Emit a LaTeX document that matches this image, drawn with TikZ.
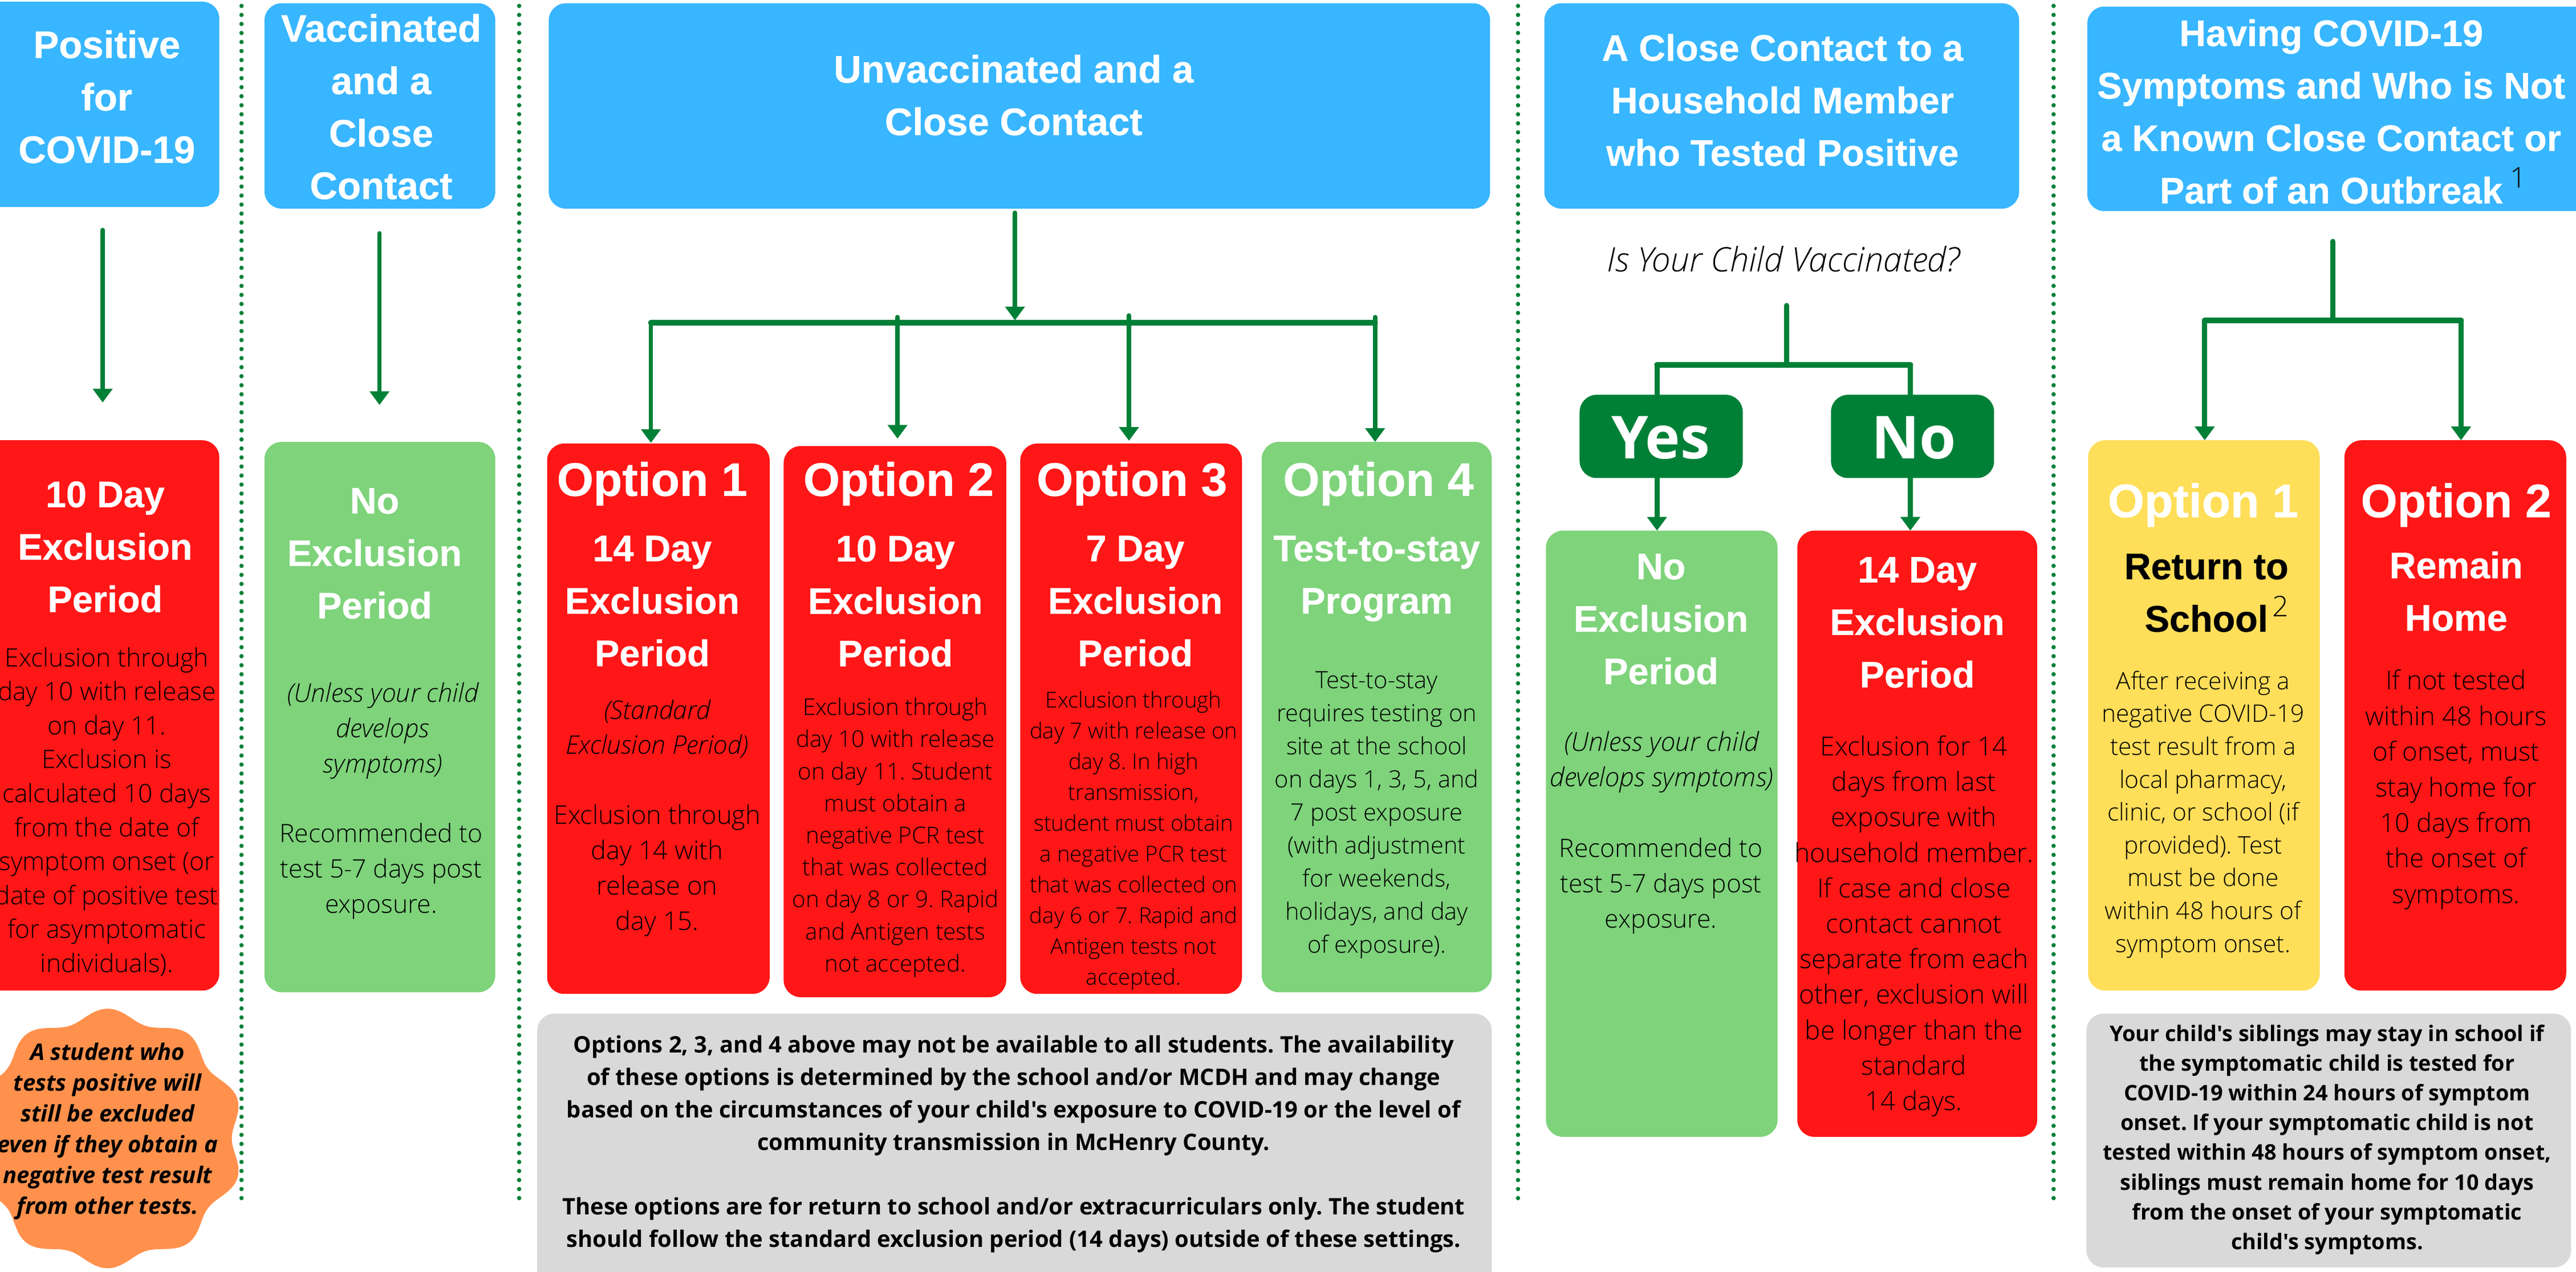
\documentclass[tikz,border=0pt]{standalone}
\usepackage{fontspec}
\newfontfamily\os{Open Sans}
\newfontfamily\lightfont{Open Sans Light}[ItalicFont={Open Sans Light Italic}]
\newfontfamily\headfont{Liberation Sans}[BoldFeatures={FakeBold=0.5}]
\usetikzlibrary{arrows.meta}
\definecolor{cblue}{HTML}{38B6FF}
\definecolor{cred}{HTML}{FF1616}
\definecolor{cgreen}{HTML}{7ED37B}
\definecolor{cdark}{HTML}{008037}
\definecolor{cyellow}{HTML}{FFDE59}
\definecolor{cgrey}{HTML}{D9D9D9}
\definecolor{corange}{HTML}{FF914D}
\newcommand{\bx}[6]{\node[panel,fill=#2,minimum width={(#5-#3)*0.7203pt},minimum height={(#6-#4)*0.7203pt}] (#1) at ({(#3+#5)/2},{(#4+#6)/2}) {};}
\tikzset{
  panel/.style={rounded corners=7.5pt,inner sep=0pt,outer sep=0pt,draw=none},
  txt/.style={inner sep=0pt,outer sep=0pt,align=center,execute at begin node=\frenchspacing\strut,execute at end node=\strut},
  head/.style={txt,yshift=-3.3pt,text=white,font={\fontsize{16.2}{23}\selectfont\headfont\bfseries}},
  headb/.style={head,font={\fontsize{16.8}{23}\selectfont\headfont\bfseries}},
  headk/.style={head,text=black},
  opt/.style={txt,yshift=-3pt,text=white,font={\fontsize{20.6}{24}\selectfont\headfont\bfseries}},
  yn/.style={txt,yshift=-3.2pt,text=white,font={\fontsize{26}{30}\selectfont\os\bfseries}},
  body/.style 2 args={txt,yshift=-2.2pt,text=black,font={\fontsize{#1}{#2}\selectfont\lightfont}},
  ibody/.style 2 args={txt,yshift=-2.2pt,text=black,font={\fontsize{#1}{#2}\selectfont\lightfont\itshape}},
  note/.style 2 args={txt,yshift=-2.4pt,text=black,font={\fontsize{#1}{#2}\selectfont\os\bfseries}},
  inote/.style 2 args={txt,yshift=-2pt,text=black,font={\fontsize{#1}{#2}\selectfont\os\bfseries\itshape}},
  sup/.style={inner sep=0pt,text=black,font={\fontsize{12.5}{14}\selectfont\lightfont}},
  sep/.style={draw=cdark,line width=1.9pt,line cap=round,dash pattern=on 0pt off 3.96pt},
  bar/.style={draw=cdark,line width=2.5pt,line cap=round},
  trunk/.style={draw=cdark,line width=2.3pt,line cap=round},
  arr/.style={trunk,-{Triangle[width=8.4pt,length=6pt]}},
  arrt/.style={arr,line width=1.9pt},
}
\begin{document}
\begin{tikzpicture}[x=0.7203pt,y=-0.7203pt]
\useasboundingbox (0,0) rectangle (1568,774);
\fill[white] (0,0) rectangle (1568,774);
% separators
\foreach \n/\xx in {1/147,2/316,3/924,4/1250}{
  \coordinate (st\n) at (\xx,3.6);
  \coordinate (se\n) at (\xx,734);
  \draw[sep] (st\n) -- (se\n);
}
% blue headers
\bx{b1}{cblue}{-25}{1}{133.5}{126}
\bx{b2}{cblue}{161}{2}{301.5}{127}
\bx{b3}{cblue}{334}{2}{907}{127}
\bx{b4}{cblue}{940}{2}{1229}{127}
\bx{b5}{cblue}{1270.5}{4}{1590}{128.5}
\node[headb] (tb1) at (65,59) {Positive\\for\\COVID-19};
\node[headb] (tb2) at (232,65) {Vaccinated\\and a\\Close\\Contact};
\node[headb] (tb3) at (617,58) {Unvaccinated and a\\Close Contact};
\node[head] (tb4) at (1085,61) {A Close Contact to a\\Household Member\\who Tested Positive};
\node[head] (tb5) at (1419,68) {Having COVID-19\\Symptoms and Who is Not\\a Known Close Contact or\\Part of an Outbreak};
\node[sup] (s1) at (1533,108) {1};
% column 1
\bx{r1}{cred}{-25}{268}{133.5}{603}
\node[head] (tr1) at (64,333) {10 Day\\Exclusion\\Period};
\node[body={11.1}{14.9}] (br1) at (65,493) {Exclusion through\\day 10 with release\\on day 11.\\Exclusion is\\calculated 10 days\\from the date of\\symptom onset (or\\date of positive test\\for asymptomatic\\individuals).};
\fill[corange] plot[domain=0:360,samples=240,smooth] ({65.5+1.05*(75.5+3.5*cos(10*(\x-90)))*cos(\x)},{693-(75.5+3.5*cos(10*(\x-90)))*sin(\x)}) -- cycle;
\node[inote={10}{13.5}] (nb) at (65.5,687) {A student who\\tests positive will\\still be excluded\\even if they obtain a\\negative test result\\from other tests.};
% column 2
\bx{g2}{cgreen}{161}{269}{301.5}{604}
\node[head] (tg2) at (228,337) {No\\Exclusion\\Period};
\node[ibody={11.3}{15.5}] (ig2) at (233,443) {(Unless your child\\develops\\symptoms)};
\node[body={11.1}{15.5}] (bg2) at (232,528.5) {Recommended to\\test 5-7 days post\\exposure.};
\coordinate (a1s) at (62.5,140);
\coordinate (a1e) at (62.5,245);
\draw[arrt] (a1s) -- (a1e);
\coordinate (a2s) at (231,142);
\coordinate (a2e) at (231,246.5);
\draw[arrt] (a2s) -- (a2e);
% column 3
\bx{o1}{cred}{333}{270}{468.5}{605}
\bx{o2}{cred}{477}{271.5}{612.5}{607}
\bx{o3}{cred}{621}{270}{756}{605}
\bx{o4}{cgreen}{768}{269}{908}{604}
\node[opt] (to1) at (397,291) {Option 1};
\node[opt] (to2) at (547,291) {Option 2};
\node[opt] (to3) at (689,291) {Option 3};
\node[opt] (to4) at (839,291) {Option 4};
\node[head] (ho1) at (397,366) {14 Day\\Exclusion\\Period};
\node[head] (ho2) at (545,366) {10 Day\\Exclusion\\Period};
\node[head] (ho3) at (691,366) {7 Day\\Exclusion\\Period};
\node[head] (ho4) at (838,350) {Test-to-stay\\Program};
\node[ibody={11.2}{15.2}] (io1) at (400,442.5) {(Standard\\Exclusion Period)};
\node[body={11.3}{15.5}] (bo1) at (400,528) {Exclusion through\\day 14 with\\release on\\day 15.};
\node[body={10.1}{14.05}] (bo2) at (545,508) {Exclusion through\\day 10 with release\\on day 11. Student\\must obtain a\\negative PCR test\\that was collected\\on day 8 or 9. Rapid\\and Antigen tests\\not accepted.};
\node[body={9.6}{13.5}] (bo3) at (690,510) {Exclusion through\\day 7 with release on\\day 8. In high\\transmission,\\student must obtain\\a negative PCR test\\that was collected on\\day 6 or 7. Rapid and\\Antigen tests not\\accepted.};
\node[body={10.4}{14.5}] (bo4) at (838,494.5) {Test-to-stay\\requires testing on\\site at the school\\on days 1, 3, 5, and\\7 post exposure\\(with adjustment\\for weekends,\\holidays, and day\\of exposure).};
\bx{g3}{cgrey}{327}{617}{908}{790}
\node[note={9.98}{14.2}] (ng3) at (617,694.5) {Options 2, 3, and 4 above may not be available to all students. The availability\\of these options is determined by the school and/or MCDH and may change\\based on the circumstances of your child's exposure to COVID-19 or the level of\\community transmission in McHenry County.\\[14.2pt]These options are for return to school and/or extracurriculars only. The student\\should follow the standard exclusion period (14 days) outside of these settings.};
\coordinate (s3) at (617.8,129.5);
\coordinate (j3) at (617.8,195);
\coordinate (j3l) at (396.2,196.5);
\coordinate (j3r) at (837,196.5);
\coordinate (t3a) at (396.2,196.5);
\coordinate (t3b) at (546.3,193);
\coordinate (t3c) at (687.2,192);
\coordinate (t3d) at (837,193);
\coordinate (e3a) at (396.2,269.6);
\coordinate (e3b) at (546.3,267);
\coordinate (e3c) at (687.2,268.3);
\coordinate (e3d) at (837,269);
\draw[arrt] (s3) -- (j3);
\draw[bar] (j3l) -- (j3r);
\draw[arrt] (t3a) -- (e3a);
\draw[arrt] (t3b) -- (e3b);
\draw[arrt] (t3c) -- (e3c);
\draw[arrt] (t3d) -- (e3d);
% column 4
\node[txt,yshift=-1.4pt,text=black,font={\fontsize{14.8}{16}\selectfont\lightfont\itshape}] (q4) at (1085.5,159) {Is Your Child Vaccinated?};
\bx{g4}{cgreen}{941}{323}{1082}{692}
\bx{r4}{cred}{1094}{323}{1240}{692}
\node[head] (hg4) at (1011,377) {No\\Exclusion\\Period};
\node[head] (hr4) at (1167,379) {14 Day\\Exclusion\\Period};
\node[ibody={11.5}{15.5}] (ig4) at (1011.5,462) {(Unless your child\\develops symptoms)};
\node[body={11.1}{15.5}] (bg4) at (1011,537.5) {Recommended to\\test 5-7 days post\\exposure.};
\node[body={11.5}{15.55}] (br4) at (1165,562) {Exclusion for 14\\days from last\\exposure with\\household member.\\If case and close\\contact cannot\\separate from each\\other, exclusion will\\be longer than the\\standard\\14 days.};
\coordinate (s4) at (1087.5,186);
\coordinate (j4) at (1087.5,222);
\coordinate (j4a) at (1008.6,222);
\coordinate (j4b) at (1162.8,222);
\draw[trunk] (s4) -- (j4);
\draw[trunk] (j4a) -- ++(0,20);
\draw[trunk] (j4b) -- ++(0,20);
\draw[bar] (j4a) -- (j4b);
\bx{yes}{cdark}{961.5}{240.3}{1060.8}{291}
\bx{no}{cdark}{1114.5}{240.3}{1213.8}{291}
\node[yn] (tyes) at (1010.8,266.6) {Yes};
\node[yn] (tno) at (1165,266.6) {No};
\draw[arr] (j4a |- yes.south) -- (j4a |- g4.north);
\draw[arr] (j4b |- no.south) -- (j4b |- r4.north);
% column 5
\bx{y5}{cyellow}{1271}{268}{1412}{603}
\bx{r5}{cred}{1427}{268}{1562}{603}
\node[opt] (ty5) at (1341,304) {Option 1};
\node[opt] (tr5) at (1495,304) {Option 2};
\node[headk] (hy5) at (1343,361) {Return to\\School};
\node[sup] (s2) at (1388,369) {2};
\node[head] (hr5) at (1495,360) {Remain\\Home};
\node[body={10.6}{14.4}] (by5) at (1341,494) {After receiving a\\negative COVID-19\\test result from a\\local pharmacy,\\clinic, or school (if\\provided). Test\\must be done\\within 48 hours of\\symptom onset.};
\node[body={11.4}{15.6}] (br5) at (1495,479) {If not tested\\within 48 hours\\of onset, must\\stay home for\\10 days from\\the onset of\\symptoms.};
\bx{g5}{cgrey}{1270}{617}{1565}{771.5}
\node[note={9.45}{13.05}] (ng5) at (1416.5,691.5) {Your child's siblings may stay in school if\\the symptomatic child is tested for\\COVID-19 within 24 hours of symptom\\onset. If your symptomatic child is not\\tested within 48 hours of symptom onset,\\siblings must remain home for 10 days\\from the onset of your symptomatic\\child's symptoms.};
\coordinate (s5) at (1420,147);
\coordinate (j5) at (1420,195);
\coordinate (j5a) at (1342,195);
\coordinate (j5b) at (1498,195);
\draw[trunk] (s5) -- (j5);
\draw[bar] (j5a) -- (j5b);
\draw[arr] (j5a) -- (j5a |- y5.north);
\draw[arr] (j5b) -- (j5b |- r5.north);
\end{tikzpicture}
\end{document}
